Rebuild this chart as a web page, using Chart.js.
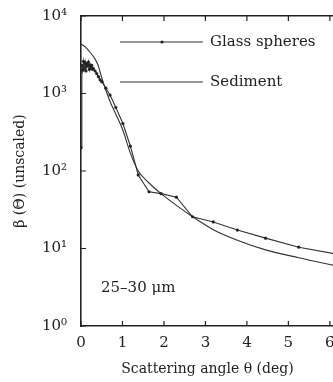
<!DOCTYPE html>
<html>
<head>
<meta charset="utf-8">
<script src="https://cdn.jsdelivr.net/npm/chart.js@4.4.0/dist/chart.umd.min.js"></script>
<style>
  html, body { margin: 0; padding: 0; background: #fff; overflow: hidden; }
  #wrap { width: 340px; height: 382px; }
</style>
</head>
<body>
<div id="wrap"><canvas id="beta"></canvas></div>
<script>
// data
const glassTheta = [0, 0.02, 0.04, 0.06, 0.08, 0.1, 0.12, 0.14, 0.16, 0.18, 0.2, 0.22, 0.24, 0.26, 0.28, 0.3,
  0.34, 0.38, 0.42, 0.46, 0.5, 0.6, 0.7, 0.84, 1.01, 1.19, 1.38, 1.64, 1.93, 2.3, 2.69, 3.19, 3.77, 4.45, 5.25, 6.2];
const glassBeta = [200, 2300, 2000, 2600, 2100, 2500, 1950, 2400, 2250, 2550, 2050, 2350, 2150, 2300, 2050, 2100,
  1950, 1800, 1650, 1500, 1420, 1170, 955, 660, 410, 210, 89, 54, 51, 46, 25.7, 22, 17.3, 13.6, 10.4, 8.4];

const sedTheta = [0, 0.05, 0.1, 0.2, 0.3, 0.4, 0.5, 0.6, 0.7, 0.84, 1.01, 1.19, 1.38, 1.64, 1.93, 2.3, 2.69, 3.19, 3.77, 4.45, 5.25, 6.2];
const sedBeta = [4350, 4200, 4000, 3500, 3000, 2400, 1600, 1100, 790, 540, 335, 170, 100, 70, 51, 36, 25.7, 17.5, 12.8, 9.6, 7.6, 5.9];

const xTicks = [0, 1, 2, 3, 4, 5, 6];
const yTicks = [1, 10, 100, 1000, 10000];
const yTickLabels = ["10⁰", "10¹", "10²", "10³", "10⁴"];

const serif = "'DejaVu Serif', 'Liberation Serif', serif";
const ink = "#222";

const pts = (xs, ys) => xs.map((x, i) => ({ x: x, y: ys[i] }));

// inward tick marks on bottom, top and left
const insideTicks = {
  id: "insideTicks",
  afterDraw(chart) {
    const { ctx, chartArea: a, scales } = chart;
    ctx.save();
    ctx.strokeStyle = ink;
    ctx.lineWidth = 1.2;
    ctx.beginPath();
    xTicks.forEach(v => {
      const px = scales.x.getPixelForValue(v);
      ctx.moveTo(px, a.bottom); ctx.lineTo(px, a.bottom - 5);
      ctx.moveTo(px, a.top); ctx.lineTo(px, a.top + 5);
    });
    yTicks.forEach(v => {
      const py = scales.y.getPixelForValue(v);
      ctx.moveTo(a.left, py); ctx.lineTo(a.left + 5, py);
    });
    ctx.stroke();
    ctx.restore();
  }
};

// legend and size note inside the plot
const insideLegend = {
  id: "insideLegend",
  afterDraw(chart) {
    const { ctx } = chart;
    const rows = [
      { y: 42, ds: chart.data.datasets[0] },
      { y: 82, ds: chart.data.datasets[1] }
    ];
    ctx.save();
    rows.forEach(r => {
      ctx.strokeStyle = r.ds.borderColor;
      ctx.lineWidth = 1.2;
      ctx.beginPath();
      ctx.moveTo(120, r.y); ctx.lineTo(203, r.y);
      ctx.stroke();
      if (r.ds.pointRadius > 0) {
        ctx.fillStyle = r.ds.pointBackgroundColor;
        ctx.beginPath();
        ctx.arc(162, r.y, r.ds.pointRadius, 0, Math.PI * 2);
        ctx.fill();
      }
      ctx.fillStyle = ink;
      ctx.font = "15px " + serif;
      ctx.textBaseline = "middle";
      ctx.fillText(r.ds.label, 210, r.y);
    });
    ctx.fillText("25–30 μm", 101, 288);
    ctx.restore();
  }
};

new Chart(document.getElementById("beta"), {
  type: "line",
  data: {
    datasets: [
      {
        label: "Glass spheres",
        data: pts(glassTheta, glassBeta),
        borderColor: "#333",
        borderWidth: 1.1,
        pointRadius: 1.6,
        pointBackgroundColor: "#222",
        pointBorderWidth: 0,
        tension: 0
      },
      {
        label: "Sediment",
        data: pts(sedTheta, sedBeta),
        borderColor: "#333",
        borderWidth: 1.1,
        pointRadius: 0,
        cubicInterpolationMode: "monotone"
      }
    ]
  },
  options: {
    responsive: true,
    maintainAspectRatio: false,
    animation: false,
    events: [],
    layout: { padding: { top: 16, right: 6, left: 0, bottom: 0 } },
    plugins: { legend: { display: false }, tooltip: { enabled: false } },
    scales: {
      x: {
        type: "linear",
        min: 0,
        max: 6.1,
        afterBuildTicks: s => { s.ticks = xTicks.map(v => ({ value: v })); },
        afterFit: s => { s.height = 56; s.paddingLeft = 0; s.paddingRight = 0; },
        grid: { display: false },
        border: { display: true, color: ink, width: 1.6 },
        ticks: { color: ink, font: { family: serif, size: 15 }, padding: 0, maxRotation: 0 },
        title: { display: true, text: "Scattering angle θ (deg)", color: ink, font: { family: serif, size: 14 }, padding: { top: 6 } }
      },
      x2: {
        type: "linear",
        position: "top",
        min: 0,
        max: 6.1,
        afterFit: s => { s.height = 0; s.paddingLeft = 0; s.paddingRight = 0; },
        grid: { display: false },
        border: { display: true, color: ink, width: 1.6 },
        ticks: { display: false }
      },
      y: {
        type: "logarithmic",
        min: 1,
        max: 10000,
        afterBuildTicks: s => { s.ticks = yTicks.map(v => ({ value: v })); },
        afterFit: s => { s.width = 81; },
        grid: { display: false },
        border: { display: true, color: ink, width: 1.6 },
        ticks: {
          color: ink,
          font: { family: serif, size: 15 },
          padding: 6,
          callback: v => yTickLabels[yTicks.indexOf(v)]
        },
        title: { display: true, text: "β (Θ) (unscaled)", color: ink, font: { family: serif, size: 14 }, padding: { top: 12, bottom: 0 } }
      }
    }
  },
  plugins: [insideTicks, insideLegend]
});
</script>
</body>
</html>
